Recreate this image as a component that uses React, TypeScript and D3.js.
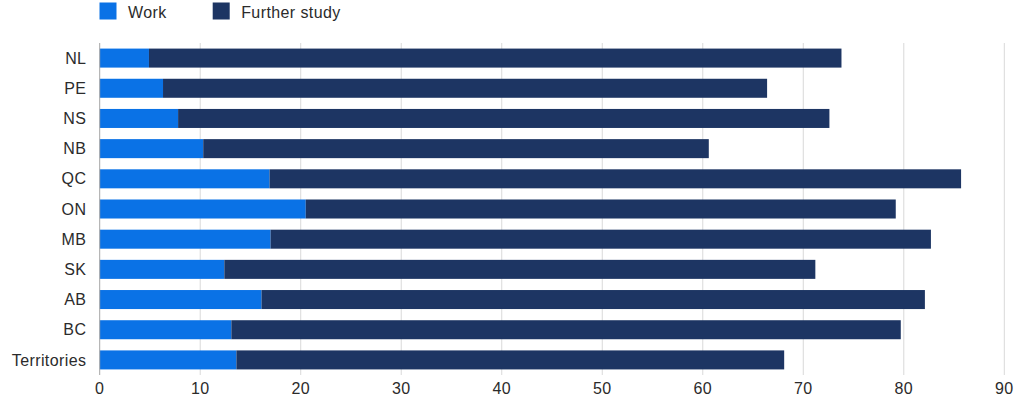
import React, { useEffect, useRef } from 'react';
import * as d3 from 'd3';

const provinces = ['NL', 'PE', 'NS', 'NB', 'QC', 'ON', 'MB', 'SK', 'AB', 'BC', 'Territories'];
const work = [4.9, 6.3, 7.8, 10.3, 16.9, 20.5, 17.0, 12.4, 16.1, 13.1, 13.6];
const furtherStudy = [68.9, 60.1, 64.8, 50.3, 68.8, 58.7, 65.7, 58.8, 66.0, 66.6, 54.5];
const xTicks = [0, 10, 20, 30, 40, 50, 60, 70, 80, 90];
const seriesNames = ['Work', 'Further study'];
const colors = ['#0a72e6', '#1d3563'];

const App = () => {
  const svgRef = useRef<SVGSVGElement>(null);

  useEffect(() => {
    const svg = d3.select(svgRef.current);
    svg.selectAll('*').remove();

    const width = 1024;
    const height = 399;
    const margin = { top: 43, right: 20, bottom: 24, left: 99.7 };
    const font = '"Liberation Sans", Arial, sans-serif';
    const spacing = 0.4;

    svg.attr('width', width).attr('height', height);

    const x = d3.scaleLinear().domain([0, 90]).range([margin.left, 1004.3]);
    const y = d3
      .scaleBand()
      .domain(provinces)
      .range([margin.top, height - margin.bottom])
      .paddingInner(0.37)
      .paddingOuter(0.185);

    // gridlines
    svg
      .append('g')
      .selectAll('line')
      .data(xTicks.slice(1))
      .join('line')
      .attr('x1', (d) => x(d))
      .attr('x2', (d) => x(d))
      .attr('y1', margin.top)
      .attr('y2', height - margin.bottom)
      .attr('stroke', '#d9d9d9')
      .attr('stroke-width', 1);

    // stacked bars
    const rows = provinces.map((p, i) => ({ p, work: work[i], further: furtherStudy[i] }));
    const g = svg.append('g');
    g.selectAll('rect.work')
      .data(rows)
      .join('rect')
      .attr('class', 'work')
      .attr('x', x(0))
      .attr('y', (d) => y(d.p)!)
      .attr('width', (d) => x(d.work) - x(0))
      .attr('height', y.bandwidth())
      .attr('fill', colors[0]);
    g.selectAll('rect.further')
      .data(rows)
      .join('rect')
      .attr('class', 'further')
      .attr('x', (d) => x(d.work))
      .attr('y', (d) => y(d.p)!)
      .attr('width', (d) => x(d.work + d.further) - x(d.work))
      .attr('height', y.bandwidth())
      .attr('fill', colors[1]);

    // left axis line
    svg
      .append('line')
      .attr('x1', x(0))
      .attr('x2', x(0))
      .attr('y1', margin.top)
      .attr('y2', height - margin.bottom)
      .attr('stroke', '#a6a6a6')
      .attr('stroke-width', 1);

    // category labels
    svg
      .append('g')
      .selectAll('text')
      .data(provinces)
      .join('text')
      .attr('x', 86.4)
      .attr('y', (d) => y(d)! + y.bandwidth() / 2)
      .attr('dy', '0.35em')
      .attr('text-anchor', 'end')
      .attr('font-family', font)
      .attr('font-size', 16)
      .attr('letter-spacing', spacing)
      .attr('fill', '#2b2b2b')
      .text((d) => d);

    // x tick labels
    svg
      .append('g')
      .selectAll('text')
      .data(xTicks)
      .join('text')
      .attr('x', (d) => x(d))
      .attr('y', 394)
      .attr('text-anchor', 'middle')
      .attr('font-family', font)
      .attr('font-size', 16)
      .attr('letter-spacing', spacing)
      .attr('fill', '#2b2b2b')
      .text((d) => d);

    // legend
    const legendX = [99.5, 212.7];
    const legend = svg
      .append('g')
      .selectAll('g')
      .data(seriesNames)
      .join('g')
      .attr('transform', (d, i) => `translate(${legendX[i]}, 2.5)`);
    legend
      .append('rect')
      .attr('width', 17)
      .attr('height', 17)
      .attr('fill', (d, i) => colors[i]);
    legend
      .append('text')
      .attr('x', 28.5)
      .attr('y', 15)
      .attr('font-family', font)
      .attr('font-size', 16)
      .attr('letter-spacing', spacing)
      .attr('fill', '#2b2b2b')
      .text((d) => d);
  }, []);

  return <svg ref={svgRef} style={{ position: 'absolute', left: 0, top: 0 }}></svg>;
};

export default App;
